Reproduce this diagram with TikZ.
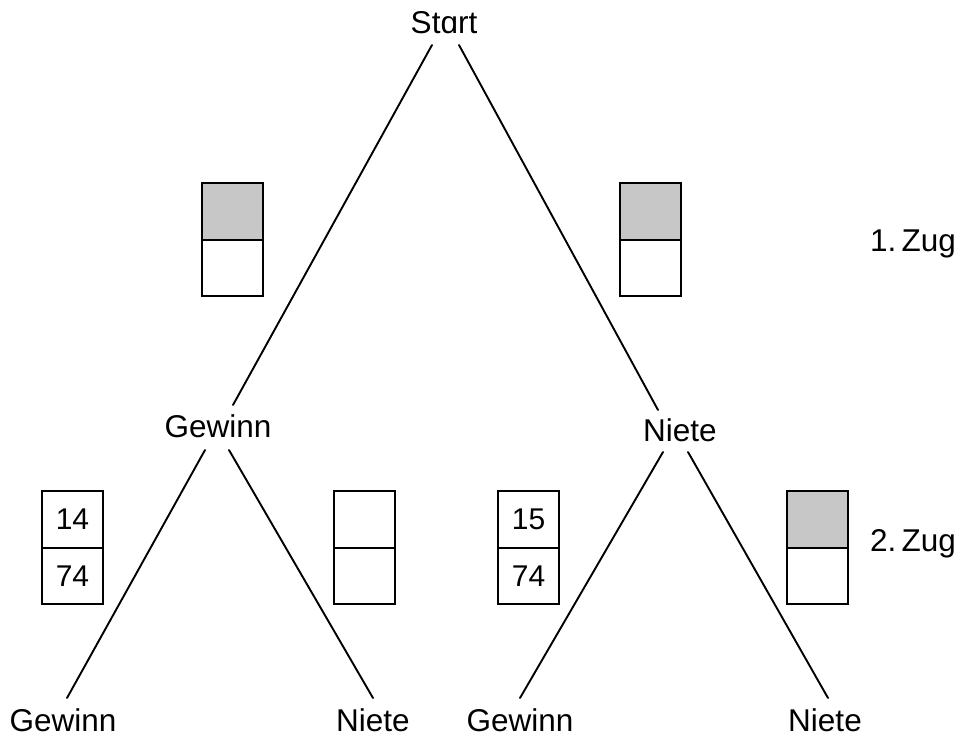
\documentclass[tikz,border=0pt]{standalone}
\usepackage{fontspec}
\setmainfont{Liberation Sans}
\usetikzlibrary{calc}
\begin{document}
\begin{tikzpicture}[x=1pt,y=-1pt,
  lbl/.style={anchor=base,inner sep=0pt,font=\fontsize{31.5}{38}\selectfont},
  branch/.style={line width=1.9pt,line cap=round},
  cell/.style={draw,line width=2pt,minimum width=61pt,minimum height=56.5pt,inner sep=0pt,
    outer sep=0pt,font=\fontsize{30}{36}\selectfont},
  grey/.style={cell,fill=black!22}]
\useasboundingbox (0,0) rectangle (963,736);

% labels of the tree
\node[lbl] (start) at (444,33) {St\char"0251 rt};
\node[lbl] (gw) at (218,437) {Gewinn};
\node[lbl] (ni) at (680,441) {Niete};
\node[lbl] (gwgw) at (63,731) {Gewinn};
\node[lbl] (gwni) at (373,731) {Niete};
\node[lbl] (nigw) at (520,731) {Gewinn};
\node[lbl] (nini) at (825,731) {Niete};
\node[lbl] (zug1) at (913,251) {1.\,Zug};
\node[lbl] (zug2) at (913,551) {2.\,Zug};

% branches
\draw[branch] ($(start.base)+(-12,12)$) -- ($(gw.base)+(15,-32)$);
\draw[branch] ($(start.base)+(15,12)$) -- ($(ni.base)+(-22,-31)$);
\draw[branch] ($(gw.base)+(-13,13)$) -- ($(gwgw.base)+(4,-33)$);
\draw[branch] ($(gw.base)+(11,13)$) -- ($(gwni.base)+(0,-33)$);
\draw[branch] ($(ni.base)+(-17,11)$) -- ($(nigw.base)+(0,-33)$);
\draw[branch] ($(ni.base)+(8,11)$) -- ($(nini.base)+(3,-33)$);

% urns: first draw
\node[grey] (u1t) at (232.5,211.5) {};
\node[cell,anchor=north] (u1b) at (u1t.south) {};
\node[grey] (u2t) at (650,211.5) {};
\node[cell,anchor=north] (u2b) at (u2t.south) {};

% urns: second draw
\node[cell] (u3t) at (72.5,519.5) {14};
\node[cell,anchor=north] (u3b) at (u3t.south) {74};
\node[cell] (u4t) at (364,519.5) {};
\node[cell,anchor=north] (u4b) at (u4t.south) {};
\node[cell] (u5t) at (528.5,519.5) {15};
\node[cell,anchor=north] (u5b) at (u5t.south) {74};
\node[grey] (u6t) at (817,519.5) {};
\node[cell,anchor=north] (u6b) at (u6t.south) {};
\end{tikzpicture}
\end{document}
